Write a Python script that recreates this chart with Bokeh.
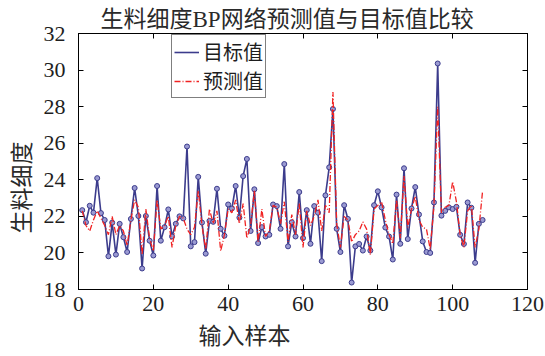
from bokeh.plotting import figure
from bokeh.models import LinearAxis, Range1d, Legend, LegendItem, Title
from bokeh.embed import file_html
from bokeh.resources import INLINE

samples = list(range(1, 109))
target = [22.34, 21.68, 22.58, 22.2, 24.09, 22.18, 21.8, 19.82, 21.66, 19.91,
          21.59, 20.86, 20.05, 21.86, 23.55, 22.02, 19.15, 22.02, 20.67, 19.86,
          23.66, 20.67, 21.41, 22.38, 20.9, 21.59, 22.0, 21.89, 25.82, 20.36,
          20.59, 24.16, 21.66, 19.96, 21.75, 21.7, 23.51, 21.32, 20.94, 22.65,
          22.43, 23.66, 21.93, 24.2, 25.14, 21.2, 23.48, 20.54, 21.41, 20.9,
          20.99, 22.65, 22.56, 21.32, 24.86, 20.36, 21.68, 20.9, 23.33, 20.81,
          22.34, 20.5, 22.56, 22.2, 19.55, 23.15, 24.68, 27.87, 21.32, 20.05,
          22.61, 21.86, 18.38, 20.36, 20.49, 20.13, 20.9, 20.13, 22.61, 23.37,
          22.49, 21.39, 20.9, 19.64, 23.19, 20.5, 24.63, 20.76, 22.43, 23.6,
          22.1, 20.63, 20.05, 20.0, 22.76, 30.36, 22.04, 22.3, 22.49, 22.4,
          22.52, 20.99, 20.49, 22.76, 22.47, 19.46, 21.59, 21.8]
predicted = [22.3, 21.5, 21.2, 21.8, 22.3, 21.9, 21.5, 21.0, 22.0, 21.0,
             21.5, 21.2, 20.4, 21.8, 22.9, 22.5, 19.9, 22.4, 20.8, 20.1,
             22.9, 21.3, 21.5, 22.0, 20.3, 21.5, 22.0, 21.9, 21.3, 21.0,
             21.4, 23.4, 21.5, 20.2, 22.4, 21.6, 22.3, 20.1, 21.0, 22.4,
             22.2, 22.9, 21.6, 22.7, 20.8, 21.5, 23.4, 20.6, 22.4, 20.9,
             21.2, 22.6, 22.5, 21.6, 22.8, 20.6, 22.1, 21.0, 22.7, 20.3,
             22.3, 21.5, 22.0, 22.9, 21.2, 22.6, 22.2, 28.8, 21.6, 20.3,
             22.0, 21.8, 20.6, 21.0, 21.2, 21.7, 21.3, 19.9, 22.4, 22.6,
             22.8, 21.8, 21.0, 20.5, 22.9, 20.8, 24.2, 21.4, 22.4, 23.1,
             21.8, 21.4, 21.3, 20.2, 22.6, 28.0, 22.2, 22.5, 22.6, 23.9,
             22.8, 21.0, 20.3, 22.3, 22.6, 20.3, 21.3, 23.4]
x_ticks = [0, 20, 40, 60, 80, 100, 120]
y_ticks = [18, 20, 22, 24, 26, 28, 30, 32]

title_text = "生料细度BP网络预测值与目标值比较"
x_label = "输入样本"
y_label = "生料细度"
legend_labels = ["目标值", "预测值"]

FONT = "Liberation Serif, Noto Sans CJK SC"
BLUE = "#3c3c8c"
RED = "#f02222"
TEXT = "#1e1e1e"

p = figure(width=544, height=356, x_range=Range1d(0, 120), y_range=Range1d(18, 32),
           output_backend="svg", toolbar_location=None,
           min_border_left=78, min_border_right=17, min_border_top=33, min_border_bottom=64)
p.background_fill_color = "white"
p.border_fill_color = "white"
p.outline_line_color = "black"
p.outline_line_width = 1
p.grid.visible = False

p.title.text = title_text
p.title.text_font = FONT
p.title.text_font_size = "23px"
p.title.text_font_style = "normal"
p.title.text_color = "#2a2a2a"
p.title.align = "left"
p.title.offset = 22
p.title.standoff = 4

for ax in (p.xaxis[0], p.yaxis[0]):
    ax.major_tick_in = 5
    ax.major_tick_out = 0
    ax.minor_tick_line_color = None
    ax.major_label_text_font = FONT
    ax.major_label_text_font_size = "22px"
    ax.major_label_text_color = TEXT
    ax.axis_line_color = "black"
p.xaxis.ticker = x_ticks
p.yaxis.ticker = y_ticks
p.xaxis.major_label_standoff = 7
p.yaxis.major_label_standoff = 13

top = LinearAxis(ticker=x_ticks, major_label_overrides={t: "" for t in x_ticks},
                 major_label_text_font_size="8px", major_tick_in=5,
                 major_tick_out=0, minor_tick_line_color=None, major_label_standoff=0)
right = LinearAxis(ticker=y_ticks, major_label_overrides={t: "" for t in y_ticks},
                   major_label_text_font_size="8px", major_tick_in=5,
                   major_tick_out=0, minor_tick_line_color=None, major_label_standoff=0)
p.add_layout(top, "above")
p.add_layout(right, "right")

# axis titles placed like the reference (offset from the frame centre)
p.add_layout(Title(text=x_label, align="left", offset=120, standoff=16,
                   text_font=FONT, text_font_size="23px", text_font_style="normal",
                   text_color="#2a2a2a"), "below")
p.add_layout(Title(text=y_label, align="left", offset=56, standoff=12,
                   text_font=FONT, text_font_size="23px", text_font_style="normal",
                   text_color="#2a2a2a"), "left")

blue_line = p.line(samples, target, color=BLUE, line_width=1.6)
p.scatter(samples, target, marker="circle", size=5, line_color=BLUE,
          fill_color="#9a9ad2", line_width=1)
red_line = p.line(samples, predicted, color=RED, line_width=1.3, line_dash="6 2 1 2")

legend = Legend(items=[LegendItem(label=legend_labels[0], renderers=[blue_line]),
                       LegendItem(label=legend_labels[1], renderers=[red_line])],
                location=(93, 191), label_text_font=FONT, label_text_font_size="20px",
                label_text_color=TEXT, glyph_width=25, glyph_height=16,
                label_height=16, label_standoff=4, spacing=0, padding=2, margin=0,
                border_line_color="black", border_line_width=1,
                background_fill_alpha=1)
p.add_layout(legend)

open("out.html", "w").write(file_html(p, INLINE))
